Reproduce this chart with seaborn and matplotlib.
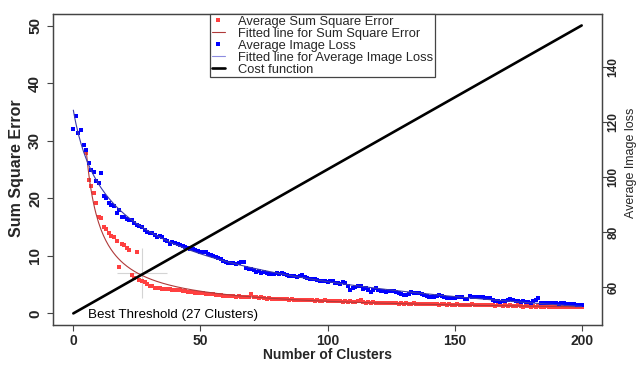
import numpy as np
import pandas as pd
import matplotlib
matplotlib.use("Agg")
import matplotlib.pyplot as plt
import seaborn as sns
from matplotlib.lines import Line2D

# ---------------- data ----------------
sse_clusters = list(range(5, 201))
sse_values = [
    27.8, 23.1, 22.1, 21.0, 19.2,
    16.8, 16.6, 15.0, 14.7, 13.9, 13.5, 13.2, 12.5, 8.1, 12.1,
    11.9, 11.3, 11.0, 6.7, 6.1, 10.6, 5.8, 5.7, 5.4, 5.2,
    4.8, 4.7, 4.5, 4.5, 4.4, 4.3, 4.3, 4.2, 4.2, 4.1,
    4.1, 4.0, 4.0, 3.9, 3.9, 3.8, 3.8, 3.7, 3.6, 3.6,
    3.5, 3.5, 3.4, 3.4, 3.3, 3.3, 3.2, 3.2, 3.2, 3.1,
    3.1,
    3.0, 3.1, 3.0, 2.9, 3.0, 2.9, 2.9, 2.8, 2.9, 3.4,
    2.8, 2.8, 2.7, 2.8, 2.7, 2.6, 2.7, 2.6, 2.6, 2.5,
    2.6, 2.5, 2.5, 2.5, 2.4, 2.5, 2.4, 2.4, 2.3, 2.4,
    2.3, 2.3, 2.4, 2.3, 2.2, 2.3, 2.2, 2.2, 2.3, 2.2,
    2.1, 2.2, 2.1, 2.1, 2.1, 2.0, 2.1, 2.0, 2.1, 2.0,
    2.0, 2.1, 2.3, 2.0, 1.9, 2.0, 1.9, 2.0, 1.9, 1.9,
    1.9, 1.8, 1.9, 1.8, 1.9, 1.8, 1.8, 1.7, 1.8, 1.7,
    1.8, 1.7, 1.7, 1.8, 1.7, 1.6, 1.7, 1.6, 1.7, 1.6,
    1.6, 1.7, 1.6, 1.5, 1.6, 1.6, 1.5, 1.6, 1.5, 1.5,
    1.6, 1.5, 1.5, 1.4, 1.5, 1.5, 1.6, 1.4, 1.5, 1.4,
    1.5, 1.4, 1.4, 1.5, 1.4, 1.3, 1.4, 1.4, 1.3, 1.4,
    1.3, 1.4, 1.3, 1.3, 1.4, 1.3, 1.2, 1.3, 1.3, 1.2,
    1.3, 1.2, 1.3, 1.2, 1.2, 1.3, 1.2, 1.1, 1.2, 1.2,
    1.1, 1.2, 1.1, 1.2, 1.1, 1.1, 1.2, 1.1, 1.1, 1.1,
]

loss_clusters = list(range(0, 201))
loss_values = [
    117.3, 122.3, 116.1, 117.0, 111.6, 109.8, 105.1, 102.5, 101.7, 98.7,
    97.9, 101.5, 93.1, 92.3, 90.4, 89.8, 89.5, 87.0, 88.0, 85.3,
    85.6, 84.7, 84.4, 84.4, 83.2, 82.5, 82.0, 81.9, 80.8, 80.1,
    79.8, 79.5, 78.9, 78.3, 78.6, 78.3, 77.2, 76.6, 75.7, 76.3,
    75.9, 75.5, 75.3, 75.0, 74.7, 74.0, 73.7, 73.9, 73.5, 73.0,
    72.8, 72.6, 72.8, 72.0, 71.6, 71.3, 71.0, 70.5, 70.1, 69.6,
    69.2, 68.8, 68.9, 68.6, 68.4, 68.6, 69.0, 69.2, 67.0, 66.4,
    66.6, 66.2, 65.6, 65.8, 65.2, 65.4, 65.0, 64.8, 64.7, 64.6,
    65.0, 64.9, 65.2, 64.6, 64.4, 64.1, 64.0, 63.9, 63.7, 64.0,
    64.4, 63.6, 63.2, 63.0, 62.8, 62.9, 62.7, 62.3, 62.1, 62.0,
    61.7, 62.0, 62.1, 61.6, 61.5, 61.0, 61.9, 61.3, 60.4, 58.9,
    59.7, 59.9, 60.2, 60.4, 59.2, 59.5, 59.0, 58.3, 58.8, 59.5,
    58.9, 58.6, 58.5, 58.3, 58.5, 58.7, 58.4, 58.3, 57.8, 57.5,
    57.2, 57.1, 57.6, 58.3, 57.9, 57.7, 57.9, 57.5, 57.1, 56.8,
    56.5, 56.4, 56.3, 56.6, 57.1, 56.7, 56.3, 56.0, 55.9, 56.0,
    56.1, 56.2, 56.3, 56.4, 55.5, 55.8, 56.6, 56.5, 56.3, 56.4,
    56.5, 56.2, 55.9, 56.0, 55.9, 55.4, 55.0, 54.8, 54.7, 54.9,
    55.0, 55.3, 55.5, 55.2, 55.0, 54.8, 54.7, 54.8, 54.7, 54.5,
    54.3, 54.8, 55.3, 55.9, 54.1, 54.3, 54.2, 54.1, 54.2, 54.1,
    54.0, 53.8, 54.0, 54.1, 53.9, 53.7, 53.9, 53.8, 53.6, 53.5,
    53.6,
]

cost_clusters = [0, 200]
cost_values = [50.4, 155.1]

best_k = 27
best_sse = 7.0

x_ticks = [0, 50, 100, 150, 200]
sse_ticks = [0, 10, 20, 30, 40, 50]
loss_ticks = [60, 80, 100, 120, 140]

legend_labels = ["Average Sum Square Error", "Fitted line for Sum Square Error",
                 "Average Image Loss", "Fitted line for Average Image Loss",
                 "Cost function"]

RED = "#FF4040"
RED_FIT = "#B03A3A"
BLUE = "#0000FF"
BLUE_FIT = "#3A3AAA"

sse_df = pd.DataFrame({"k": sse_clusters, "sse": sse_values})
loss_df = pd.DataFrame({"k": loss_clusters, "loss": loss_values})
cost_df = pd.DataFrame({"k": cost_clusters, "cost": cost_values})

# power-law fits computed from the data
lx = np.log(sse_df["k"].values)
ly = np.log(sse_df["sse"].values)
b_r, la_r = np.polyfit(lx, ly, 1)
grid_r = np.linspace(5, 200, 400)
fit_r = pd.DataFrame({"k": grid_r, "v": np.exp(la_r) * grid_r ** b_r})

best = None
for c in np.arange(0.5, 20.01, 0.25):
    p = np.polyfit(np.log(loss_df["k"].values + c), np.log(loss_df["loss"].values), 1)
    res = np.sum((np.exp(np.polyval(p, np.log(loss_df["k"].values + c))) - loss_df["loss"].values) ** 2)
    if best is None or res < best[0]:
        best = (res, c, p)
_, c_b, p_b = best
grid_b = np.linspace(0, 200, 400)
fit_b = pd.DataFrame({"k": grid_b, "v": np.exp(np.polyval(p_b, np.log(grid_b + c_b)))})

# ---------------- plot ----------------
sns.set_style("white")
plt.rcParams["font.family"] = ["Liberation Sans", "DejaVu Sans"]

fig = plt.figure(figsize=(6.41, 3.67), dpi=100)
ax = fig.add_axes([53 / 641, 1 - 325 / 367, 549 / 641, 311 / 367])
ax2 = ax.twinx()

SPINE = "#444444"

sns.scatterplot(data=sse_df, x="k", y="sse", ax=ax, color=RED, marker="s", s=9,
                linewidth=0, zorder=3)
sns.lineplot(data=fit_r, x="k", y="v", ax=ax, color=RED_FIT, lw=0.8, zorder=4)
ax.plot([best_k], [best_sse], marker="+", markersize=36, mew=0.8,
        color="#D4D4D4", zorder=2)
ax.text(5.8, -0.25, "Best Threshold (27 Clusters)", ha="left", va="center",
        fontsize=9.6, color="black")

sns.scatterplot(data=loss_df, x="k", y="loss", ax=ax2, color=BLUE, marker="s", s=9,
                linewidth=0, zorder=3)
sns.lineplot(data=fit_b, x="k", y="v", ax=ax2, color=BLUE_FIT, lw=0.8, zorder=4)
sns.lineplot(data=cost_df, x="k", y="cost", ax=ax2, color="black", lw=1.9, zorder=5)

ax.set_xlim(-8, 208)
ax.set_ylim(-2, 52)
ax2.set_ylim(46.18, 159.27)

ax.set_xticks(x_ticks)
ax.set_xticklabels([str(v) for v in x_ticks], fontweight="bold", fontsize=10)
ax.set_yticks(sse_ticks)
ax.set_yticklabels([str(v) for v in sse_ticks], fontweight="bold", fontsize=11,
                   rotation=90, va="center")
ax2.set_yticks(loss_ticks)
ax2.set_yticklabels([str(v) for v in loss_ticks], fontsize=8.6, fontweight="bold",
                    rotation=90, va="center")

ax.tick_params(axis="both", direction="out", length=4.3, width=0.8, color=SPINE)
ax.tick_params(axis="x", pad=2, bottom=True)
ax.tick_params(axis="y", pad=3.5, left=True)
ax2.tick_params(axis="y", direction="out", length=3.5, width=0.8, color=SPINE,
                pad=0.3, right=True)

for a in (ax, ax2):
    for s in a.spines.values():
        s.set_color(SPINE)
        s.set_linewidth(0.9)
        s.set_visible(True)

ax.set_xlabel("Number of Clusters", fontweight="bold", fontsize=10)
ax.xaxis.label.set_va("center")
ax.xaxis.set_label_coords(0.5, (325 - 355) / 311)
ax.set_ylabel("Sum Square Error", fontweight="bold", fontsize=11.5)
ax.yaxis.label.set_va("center")
ax.yaxis.set_label_coords((17 - 53) / 549, 0.505)
ax2.set_ylabel("Average Image loss", fontsize=9)
ax2.yaxis.label.set_va("center")
ax2.yaxis.set_label_coords((631 - 53) / 549, 0.52)

handles = [
    Line2D([], [], ls="", marker="s", markersize=2.6, color=RED, mew=0),
    Line2D([], [], color=RED_FIT, lw=0.8),
    Line2D([], [], ls="", marker="s", markersize=2.6, color=BLUE, mew=0),
    Line2D([], [], color="#8C8CE0", lw=0.8),
    Line2D([], [], color="black", lw=1.9),
]
leg = ax2.legend(handles, legend_labels, loc="upper left",
                 bbox_to_anchor=(210 / 641, 1 - 14 / 367), bbox_transform=fig.transFigure,
                 fontsize=9.3, frameon=True, fancybox=False, borderpad=0.12,
                 labelspacing=0.0, handlelength=1.05, handletextpad=1.0,
                 borderaxespad=0, framealpha=1)
leg.get_frame().set_edgecolor(SPINE)
leg.get_frame().set_linewidth(0.9)

fig.savefig("out.png", dpi=100)
